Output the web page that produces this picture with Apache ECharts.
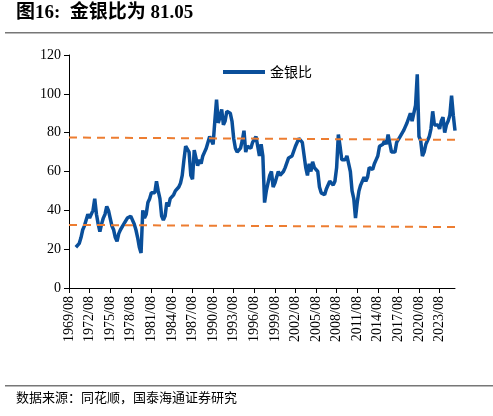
<!DOCTYPE html>
<html style="height: 100%">
<head>
    <meta charset="UTF-8">
    <title>金银比</title>
    <script src="https://cdn.jsdelivr.net/npm/echarts@6/dist/echarts.min.js"></script>
</head>
<body style="height: 100%; margin: 0; background: #fff">
    <div id="container" style="width: 493px; height: 416px"></div>
    <script type="text/javascript">
        // quarterly gold/silver ratio, from 1969/08 to 2025/11
        var ratio = [
            null, null, null, null,
            21, 22, 23, 26, 30, 32, 33, 38, 36, 37, 40, 46,
            38, 33, 29, 33, 36, 38, 42, 40, 36, 32, 30, 26,
            24, 28, 30, 31, 33, 34, 36, 35, 37, 38, 33, 30,
            26, 21, 18, 40, 36, 38, 44, 46, 49, 48, 49, 55,
            50, 46, 37, 35, 37, 44, 42, 46, 47, 48, 50, 51,
            52, 54, 58, 66, 73, 74, 70, 58, 56, 71, 70, 63,
            66, 64, 68, 70, 72, 73, 78, 76, 74, 86, 97, 85,
            88, 92, 84, 86, 91, 92, 90, 86, 77, 72, 70, 71,
            72, 76, 81, 70, 73, 74, 72, 75, 76, 78, 73, 68,
            74, 68, 44, 50, 54, 58, 60, 52, 54, 57, 60, 58,
            59, 60, 62, 63, 67, 66, 68, 68, 73, 74, 77, 78,
            75, 74, 62, 58, 64, 60, 65, 62, 63, 60, 52, 49,
            50, 48, 51, 52, 55, 56, 53, 55, 62, 79, 73, 66,
            65, 66, 68, 64, 60, 50, 46, 36, 44, 50, 53, 54,
            57, 55, 57, 62, 63, 61, 64, 66, 68, 73, 72, 74,
            76, 74, 79, 78, 70, 69, 70, 75, 76, 78, 79, 81,
            83, 85, 84, 90, 86, 85, 94, 110, 78, 76, 68, 70,
            74, 76, 78, 82, 91, 84, 85, 84, 82, 86, 88, 80,
            84, 86, 89, 99, 89, 81.05
        ];
        var upperTrend = [77.5, 76.3];
        var lowerTrend = [32.5, 31.4];
        var yTicks = [0, 20, 40, 60, 80, 100, 120];

        var months = ['08', '11', '02', '05'];
        var categories = [];
        for (var i = 0; i < ratio.length; i++) {
            var year = 1969 + Math.floor((i + 2) / 4) ;
            categories.push(year + '/' + months[i % 4]);
        }

        var myChart = echarts.init(document.getElementById('container'));
        var serif = '"Liberation Serif", "Noto Sans CJK SC", serif';
        var last = categories[categories.length - 1];

        var option = {
            animation: false,
            textStyle: {fontFamily: serif},
            grid: {left: 69, right: 38, top: 55, bottom: 128},
            legend: {
                data: [{name: '金银比', icon: 'rect'}],
                top: 60,
                left: 218,
                itemWidth: 42,
                itemHeight: 4,
                textStyle: {fontSize: 14, color: '#000', fontFamily: '"Noto Sans CJK SC"'}
            },
            xAxis: {
                type: 'category',
                boundaryGap: false,
                data: categories,
                axisLine: {lineStyle: {color: '#000'}},
                axisTick: {interval: 11, lineStyle: {color: '#000'}},
                axisLabel: {interval: 11, rotate: 90, fontSize: 14, color: '#000', fontFamily: serif}
            },
            yAxis: {
                type: 'value',
                min: yTicks[0],
                max: yTicks[yTicks.length - 1],
                interval: 20,
                splitLine: {show: false},
                axisLine: {show: true, lineStyle: {color: '#000'}},
                axisTick: {show: true, lineStyle: {color: '#000'}},
                axisLabel: {fontSize: 14, color: '#000', fontFamily: serif}
            },
            series: [{
                name: '金银比',
                type: 'line',
                data: ratio,
                showSymbol: false,
                connectNulls: false,
                lineStyle: {width: 3.5, color: '#0a4f9a'},
                itemStyle: {color: '#0a4f9a'},
                markLine: {
                    symbol: 'none',
                    silent: true,
                    label: {show: false},
                    lineStyle: {type: [8, 6], color: '#ed7d31', width: 2},
                    data: [
                        [{coord: [categories[0], upperTrend[0]]}, {coord: [last, upperTrend[1]]}],
                        [{coord: [categories[0], lowerTrend[0]]}, {coord: [last, lowerTrend[1]]}]
                    ]
                }
            }],
            graphic: [
                {type: 'text', left: 16, top: 4, style: {text: '图16:  金银比为 81.05', font: 'bold 19px "Liberation Serif", "Noto Sans CJK SC"', fill: '#000'}},
                {type: 'rect', shape: {x: 5, y: 32, width: 488, height: 1.5}, style: {fill: '#777'}},
                {type: 'rect', shape: {x: 5, y: 385, width: 488, height: 1.5}, style: {fill: '#777'}},
                {type: 'text', left: 16, top: 391, style: {text: '数据来源：同花顺，国泰海通证券研究', font: '13px "Noto Sans CJK SC"', fill: '#000'}}
            ]
        };
        myChart.setOption(option);
    </script>
</body>
</html>
